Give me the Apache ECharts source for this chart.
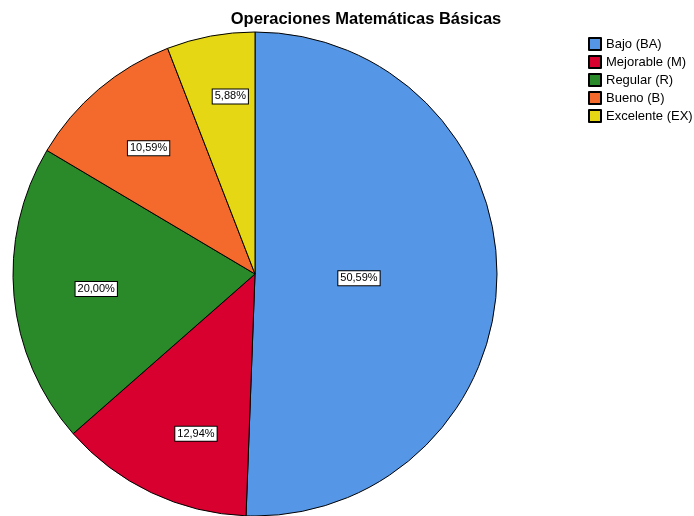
<!DOCTYPE html>
<html>
<head>
<meta charset="utf-8">
<script src="https://cdn.jsdelivr.net/npm/echarts@6/dist/echarts.min.js"></script>
<style>
    html, body { margin: 0; padding: 0; background: #fff; }
    #main { width: 694px; height: 516px; }
</style>
</head>
<body>
<div id="main"></div>
<script type="text/javascript">
    // datos del gráfico
    var categorias = ['Bajo (BA)', 'Mejorable (M)', 'Regular (R)', 'Bueno (B)', 'Excelente (EX)'];
    var porcentajes = [50.59, 12.94, 20.00, 10.59, 5.88];
    var colores = ['#5596e6', '#d7002e', '#2a8a2a', '#f46a2c', '#e5d713'];
    // pequeños ajustes de la posicion de cada etiqueta
    var desplaz = [[-20, 2], [15, 4], [13, -1], [5, 6], [7, -8]];

    function fmt(v) {
        return v.toFixed(2).replace('.', ',') + '%';
    }

    var cajaEtiqueta = {
        color: '#000',
        fontFamily: 'Liberation Sans, Arial, sans-serif',
        fontSize: 11,
        backgroundColor: '#fff',
        borderColor: '#000',
        borderWidth: 1,
        padding: [2, 2, 1, 2]
    };

    // serie principal (Bajo lleva su etiqueta cerca del centro)
    var datosPie = categorias.map(function (c, i) {
        return {
            name: c,
            value: porcentajes[i],
            itemStyle: { color: colores[i] },
            label: { show: i === 0, offset: desplaz[i] }
        };
    });
    // serie transparente solo para colocar las otras etiquetas mas afuera
    var datosEtiq = categorias.map(function (c, i) {
        return {
            name: c,
            value: porcentajes[i],
            label: { show: i !== 0, offset: desplaz[i] }
        };
    });

    var myChart = echarts.init(document.getElementById('main'));
    var option = {
        animation: false,
        title: {
            text: 'Operaciones Matemáticas Básicas',
            left: 361,
            textAlign: 'center',
            top: 6,
            textStyle: {
                fontFamily: 'Liberation Sans, Arial, sans-serif',
                fontSize: 16.5,
                fontWeight: 'bold',
                color: '#000'
            }
        },
        legend: {
            orient: 'vertical',
            left: 588,
            top: 37,
            padding: 0,
            itemWidth: 12,
            itemHeight: 12,
            itemGap: 4,
            icon: 'rect',
            data: categorias,
            selectedMode: false,
            textStyle: {
                fontFamily: 'Liberation Sans, Arial, sans-serif',
                fontSize: 13,
                color: '#000'
            }
        },
        series: [
            {
                name: 'Operaciones',
                type: 'pie',
                center: [255, 274],
                radius: 242,
                startAngle: 90,
                clockwise: true,
                silent: true,
                itemStyle: { borderColor: '#000', borderWidth: 1 },
                label: Object.assign({
                    position: 'inside',
                    formatter: function (p) { return fmt(p.value); }
                }, cajaEtiqueta),
                labelLine: { show: false },
                data: datosPie
            },
            {
                name: 'etiquetas',
                type: 'pie',
                center: [255, 274],
                radius: [97, 242],
                startAngle: 90,
                clockwise: true,
                silent: true,
                itemStyle: { color: 'rgba(0,0,0,0)', borderWidth: 0 },
                label: Object.assign({
                    position: 'inside',
                    formatter: function (p) { return fmt(p.value); }
                }, cajaEtiqueta),
                labelLine: { show: false },
                data: datosEtiq
            }
        ]
    };
    myChart.setOption(option);
</script>
</body>
</html>
